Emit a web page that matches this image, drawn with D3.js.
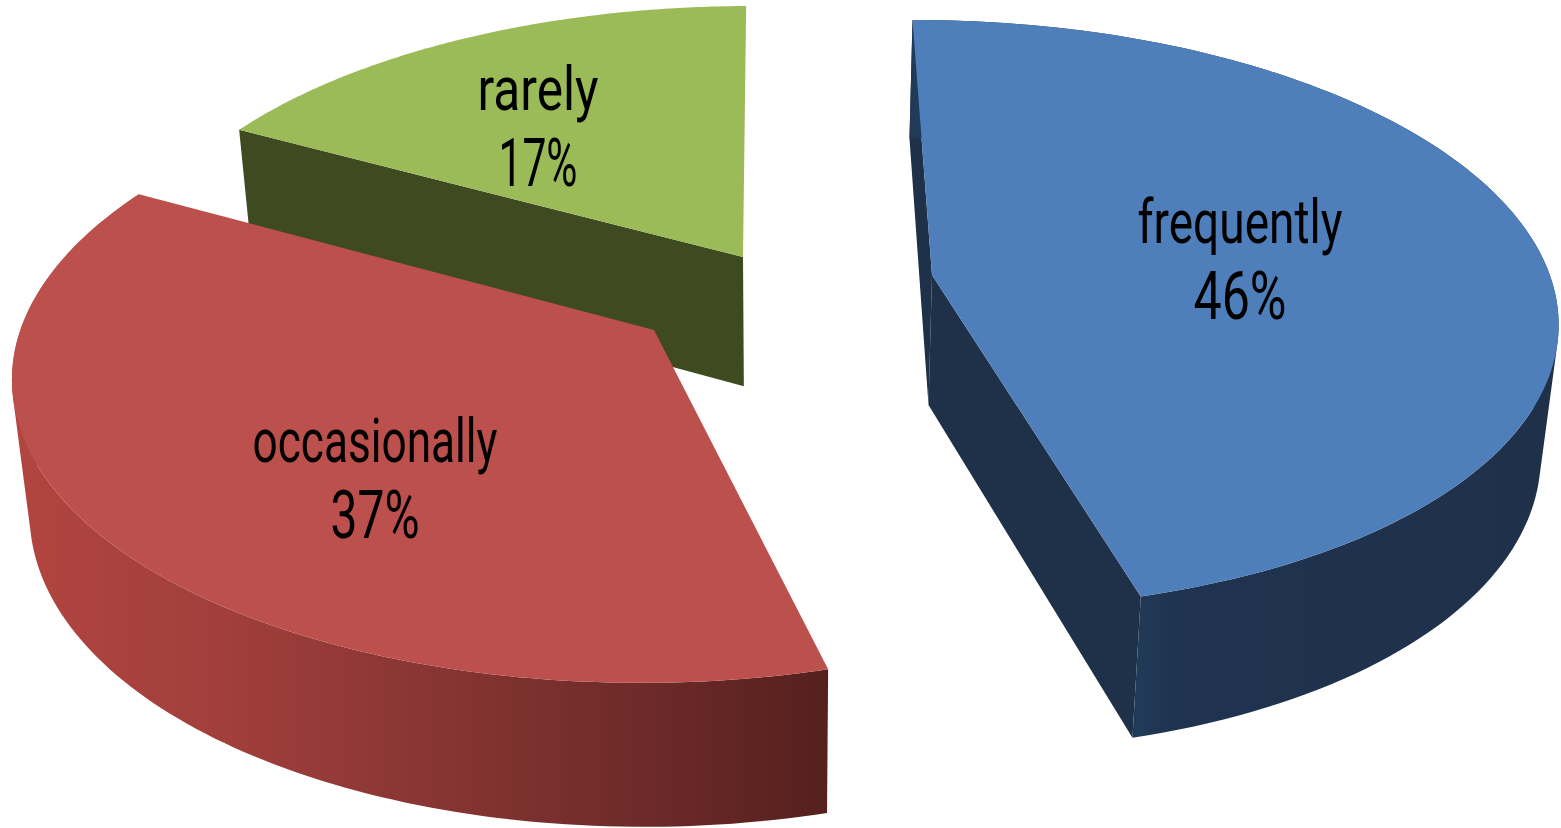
<!DOCTYPE html>
<html>
<head>
<meta charset="utf-8">
<style>
html,body{margin:0;padding:0;background:#fff;overflow:hidden}
svg{display:block}
text{font-family:"Roboto","Liberation Sans",sans-serif;font-weight:400;fill:#000}
</style>
<script src="https://cdnjs.cloudflare.com/ajax/libs/d3/7.8.5/d3.min.js"></script>
</head>
<body>
<svg id="chart" width="1561" height="828"></svg>
<script>
// Share of responses per answer
const categories = ["frequently", "occasionally", "rarely"];
const shares = [46, 37, 17];

// Appearance of each wedge: top face, wall colours, pulled-out apex, label placement
const topColors = ["#4f7fba", "#bc504d", "#9bbb59"];
const wallStops = [
  [["0%", "#213a58"], ["8%", "#1f3350"], ["100%", "#1f3049"]],
  [["0%", "#b2453f"], ["25%", "#a23f3c"], ["60%", "#7f3230"], ["100%", "#55201e"]],
  [["0%", "#3f4a20"], ["100%", "#3f4a20"]]
];
const radialWallColors = ["#1f3049", "#7a302d", "#3f4a20"];
const apexes = [[932, 275], [654, 330], [743, 257]];
const labelCenters = [[1240, 243], [375, 462], [538, 110]];
const nameWidths = [205, 245, 121];
const valueWidths = [93, 89, 79];
const paintOrder = [2, 1, 0];

// Which walls face the viewer: [start side, end side, outer curve]
const facingWalls = [[true, true, true], [false, false, true], [true, false, false]];

// Camera: a tilted disc seen in perspective
const W = 1561, H = 828;
const vanishX = 780, horizonY = 300;
const radiusX = 625, radiusY = 296, persp = 0.136;
const thickness = 131, thicknessPersp = 0.09, wallShrink = 0.023;
const turn = -0.007, frontBow = 6, rearBow = 2;

const svg = d3.select("#chart").attr("viewBox", [0, 0, W, H]);
const defs = svg.append("defs");

// Points far from the viewing axis, front or rear, drift slightly to the right
const bow = Y => (Y > 0 ? frontBow : rearBow) * Y * Y;
const toScreen = ([X, Y]) => {
  const d = 1 - persp * Y;
  return [vanishX + radiusX * X / d + bow(Y), horizonY + radiusY * Y / d];
};
const toPlane = ([x, y]) => {
  const s = (y - horizonY) / radiusY;
  const Y = s / (1 + persp * s);
  return [(x - bow(Y) - vanishX) / radiusX * (1 - persp * Y), Y];
};
const lowerEdge = ([X, Y]) => {
  const [x, y] = toScreen([X, Y]);
  return [vanishX + (x - vanishX) * (1 - wallShrink), y + thickness * (1 + thicknessPersp * Y)];
};

const pie = d3.pie().sort(null).startAngle(turn).endAngle(2 * Math.PI + turn);
const arcs = pie(shares);
const line = d3.line();

const wedges = arcs.map((arc, i) => {
  const origin = toPlane(apexes[i]);
  const steps = d3.range(0, 121).map(k => arc.startAngle + (arc.endAngle - arc.startAngle) * k / 120);
  const rim = steps.map(a => [origin[0] + Math.sin(a), origin[1] - Math.cos(a)]);
  return {i, origin, rim};
});

wedges.forEach(({i}) => {
  const g = defs.append("linearGradient")
    .attr("id", `wall-${i}`)
    .attr("gradientUnits", "userSpaceOnUse");
  const box = i === 0 ? [1140, 1560] : i === 1 ? [10, 830] : [230, 750];
  g.attr("x1", box[0]).attr("x2", box[1]).attr("y1", 0).attr("y2", 0);
  wallStops[i].forEach(([offset, color]) => g.append("stop").attr("offset", offset).attr("stop-color", color));
});

// One wall strip per rim step, all wound the same way so they merge into a single silhouette
const wallPath = rim => d3.pairs(rim).map(([a, b]) => {
  const quad = [toScreen(a), toScreen(b), lowerEdge(b), lowerEdge(a)];
  if (d3.polygonArea(quad) < 0) quad.reverse();
  return line(quad) + "Z";
}).join("");

paintOrder.forEach(i => {
  const {origin, rim} = wedges[i];
  const layer = svg.append("g").attr("class", `wedge ${categories[i]}`);
  const [startSide, endSide, outerCurve] = facingWalls[i];

  // Flat sides running from the apex out to the rim
  [[startSide, rim[0]], [endSide, rim[rim.length - 1]]].forEach(([shown, end]) => {
    if (!shown) return;
    layer.append("path")
      .attr("d", line([toScreen(origin), toScreen(end), lowerEdge(end), lowerEdge(origin)]) + "Z")
      .attr("fill", radialWallColors[i]);
  });

  // Curved outer wall between the top rim and its lower copy
  if (outerCurve) {
    layer.append("path")
      .attr("d", wallPath(rim))
      .attr("fill", `url(#wall-${i})`);
  }

  // Top face
  layer.append("path")
    .attr("d", line([toScreen(origin), ...rim.map(toScreen)]) + "Z")
    .attr("fill", topColors[i]);
});

// Answer name and percentage on each top face
const labels = svg.append("g").attr("class", "labels");
categories.forEach((name, i) => {
  const [x, y] = labelCenters[i];
  labels.append("text")
    .attr("x", x).attr("y", y)
    .attr("text-anchor", "middle")
    .attr("font-size", 62)
    .attr("textLength", nameWidths[i])
    .attr("lengthAdjust", "spacingAndGlyphs")
    .text(name);
  labels.append("text")
    .attr("x", x).attr("y", y + 76)
    .attr("text-anchor", "middle")
    .attr("font-size", 66)
    .attr("textLength", valueWidths[i])
    .attr("lengthAdjust", "spacingAndGlyphs")
    .text(`${shares[i]}%`);
});
</script>
</body>
</html>
